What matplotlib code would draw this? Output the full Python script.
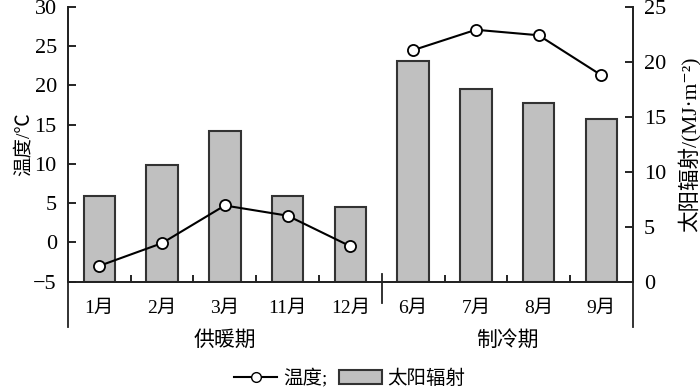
import matplotlib
matplotlib.use("Agg")
import matplotlib.pyplot as plt
from matplotlib.lines import Line2D
from matplotlib.patches import Patch

FAM = ["Liberation Serif", "Noto Sans CJK SC", "DejaVu Serif"]
plt.rcParams["font.family"] = FAM

months = ["1月", "2月", "3月", "11月", "12月", "6月", "7月", "8月", "9月"]
temperature = [-3.0, -0.1, 4.7, 3.4, -0.5, 24.5, 27.1, 26.4, 21.3]
radiation = [7.8, 10.6, 13.7, 7.8, 6.8, 20.1, 17.5, 16.3, 14.8]
groups = ["供暖期", "制冷期"]
group_sizes = [5, 4]

fig = plt.figure(figsize=(7.0, 3.9), dpi=100)
ax = fig.add_axes([0.097, 0.278, 0.807, 0.704])
axt = ax.twinx()
x = list(range(len(months)))

# bars on the radiation scale (right axis)
ax.bar(x, radiation, width=0.5, color="#c0c0c0", edgecolor="#333333", lw=1.5, zorder=2)
ax.set_ylim(0, 25)
ax.set_yticks([0, 5, 10, 15, 20, 25])
ax.yaxis.tick_right()
ax.yaxis.set_label_position("right")
ax.set_ylabel("太阳辐射/(MJ·m⁻²)", fontsize=15.5, labelpad=8)
ax.set_xlim(-0.5, len(months) - 0.5)

# temperature line on the left axis, one segment per period
axt.yaxis.tick_left()
axt.yaxis.set_label_position("left")
start = 0
for n in group_sizes:
    xs = x[start:start + n]
    axt.plot(xs, temperature[start:start + n], color="black", lw=1.5, marker="o", ms=8,
             mfc="white", mec="black", mew=1.3, zorder=3)
    start += n
axt.set_ylim(-5, 30)
axt.set_yticks(range(-5, 31, 5))
axt.set_yticklabels(["\u22125"] + [str(v) for v in range(0, 31, 5)])
axt.set_ylabel("温度/℃", fontsize=14, labelpad=0)

for a in (ax, axt):
    a.spines["top"].set_visible(False)
    for s in a.spines.values():
        s.set_linewidth(1.3)
        s.set_color("#222222")
    a.tick_params(axis="y", direction="in", length=6, width=1.2, labelsize=16, pad=8)

# x axis: month labels, inward boundary ticks
ax.set_xticks(x)
ax.set_xticklabels(months, fontsize=14)
ax.tick_params(axis="x", which="major", length=0, pad=13)
bounds = [i + 0.5 for i in range(len(months) - 1) if i + 0.5 != group_sizes[0] - 0.5]
ax.set_xticks(bounds, minor=True)
ax.tick_params(axis="x", which="minor", direction="in", length=5, width=1.2)

trans = ax.get_xaxis_transform()
sep = group_sizes[0] - 0.5
ax.plot([sep, sep], [0.027, -0.077], color="#222222", lw=1.3, transform=trans, clip_on=False)
for xe in (-0.5, len(months) - 0.5):
    ax.plot([xe, xe], [0, -0.165], color="#222222", lw=1.3, transform=trans, clip_on=False)

# group labels
start = 0
for g, n in zip(groups, group_sizes):
    cx = start + (n - 1) / 2
    ax.text(cx, -0.215, g, transform=trans, ha="center", va="center", fontsize=15)
    start += n

handles = [Line2D([], [], color="black", lw=1.5, marker="o", ms=7, mfc="white", mec="black"),
           Patch(facecolor="#c0c0c0", edgecolor="#333333", lw=1.5)]
fig.legend(handles, ["温度;", "太阳辐射"], loc="center", bbox_to_anchor=(0.5, 0.03),
           ncol=2, frameon=False, fontsize=14, handlelength=2.2, columnspacing=0.6,
           handletextpad=0.3)

fig.savefig("out.png", dpi=100)
